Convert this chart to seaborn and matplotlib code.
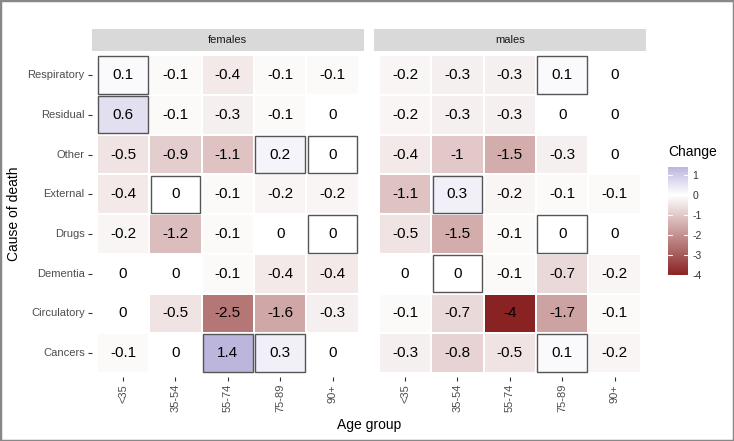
import numpy as np
import pandas as pd
import matplotlib
matplotlib.use("Agg")
import matplotlib.pyplot as plt
import seaborn as sns
from matplotlib.colors import LinearSegmentedColormap, Normalize
from matplotlib.cm import ScalarMappable
from matplotlib.patches import Rectangle

# ---------------- data ----------------
causes = ["Respiratory", "Residual", "Other", "External", "Drugs",
          "Dementia", "Circulatory", "Cancers"]
ages = ["<35", "35-54", "55-74", "75-89", "90+"]

females = [
    [0.1, -0.1, -0.4, -0.1, -0.1],
    [0.6, -0.1, -0.3, -0.1, 0],
    [-0.5, -0.9, -1.1, 0.2, 0],
    [-0.4, 0, -0.1, -0.2, -0.2],
    [-0.2, -1.2, -0.1, 0, 0],
    [0, 0, -0.1, -0.4, -0.4],
    [0, -0.5, -2.5, -1.6, -0.3],
    [-0.1, 0, 1.4, 0.3, 0],
]
males = [
    [-0.2, -0.3, -0.3, 0.1, 0],
    [-0.2, -0.3, -0.3, 0, 0],
    [-0.4, -1, -1.5, -0.3, 0],
    [-1.1, 0.3, -0.2, -0.1, -0.1],
    [-0.5, -1.5, -0.1, 0, 0],
    [0, 0, -0.1, -0.7, -0.2],
    [-0.1, -0.7, -4, -1.7, -0.1],
    [-0.3, -0.8, -0.5, 0.1, -0.2],
]
females_outlined = [("Respiratory", "<35"), ("Residual", "<35"),
                    ("Other", "75-89"), ("Other", "90+"),
                    ("External", "35-54"), ("Drugs", "90+"),
                    ("Cancers", "55-74"), ("Cancers", "75-89")]
males_outlined = [("Respiratory", "75-89"), ("External", "35-54"),
                  ("Drugs", "75-89"), ("Dementia", "35-54"),
                  ("Cancers", "75-89")]
panels = ["females", "males"]
legend_ticks = [1, 0, -1, -2, -3, -4]

# ---------------- style ----------------
sns.set_theme(style="white")
plt.rcParams['font.family'] = ['Liberation Sans', 'DejaVu Sans']

W, H = 734, 441
fig = plt.figure(figsize=(W / 100, H / 100), dpi=100)
fig.patch.set_facecolor("white")

vmin, vmax = -4, 1.4
cmap = LinearSegmentedColormap.from_list(
    "chg", [(0.0, "#892323"), ((0 - vmin) / (vmax - vmin), "#FFFFFF"), (1.0, "#BCB6DD")])
norm = Normalize(vmin, vmax)

def fx(px):
    return px / W

def fy(py):
    return 1 - py / H

panel_top, panel_bot = 51.2, 377.0
panel_lefts = [91.6, 373.6]
panel_w = 272.4

tick_col = "#4D4D4D"
for i, (name, vals, outl) in enumerate(zip(panels, [females, males],
                                          [females_outlined, males_outlined])):
    left = panel_lefts[i]
    ax = fig.add_axes([fx(left), fy(panel_bot), panel_w / W, (panel_bot - panel_top) / H])
    df = pd.DataFrame(vals, index=causes, columns=ages)
    sns.heatmap(df, ax=ax, cmap=cmap, vmin=vmin, vmax=vmax, annot=True, fmt="g",
                annot_kws=dict(size=11, color="black"), linewidths=1.2,
                linecolor="white", cbar=False)
    ax.set_xlim(-0.1, 5.1)
    ax.set_ylim(8.1, -0.1)
    ax.set_facecolor("white")
    for s in ax.spines.values():
        s.set_visible(False)
    for (r, c) in outl:
        ri, ci = causes.index(r), ages.index(c)
        ax.add_patch(Rectangle((ci + 0.025, ri + 0.03), 0.95, 0.94, fill=False,
                               edgecolor="#555555", lw=1.0, zorder=5))
    ax.set_xlabel("")
    ax.set_ylabel("")
    ax.set_xticks(np.arange(len(ages)) + 0.5)
    ax.set_xticklabels(ages, rotation=90, fontsize=8, color=tick_col)
    ax.tick_params(axis="x", bottom=True, length=3, width=0.8, color="#333333", pad=2)
    if i == 0:
        ax.set_yticks(np.arange(len(causes)) + 0.5)
        ax.set_yticklabels(causes, rotation=0, fontsize=8, color=tick_col)
        ax.tick_params(axis="y", left=True, length=3, width=0.8, color="#333333", pad=2)
    else:
        ax.set_yticks([])
    # strip
    sax = fig.add_axes([fx(left), fy(panel_top), panel_w / W, 22.5 / H])
    sax.set_facecolor("#D9D9D9")
    sax.set_xticks([]); sax.set_yticks([])
    for s in sax.spines.values():
        s.set_visible(False)
    sax.text(0.5, 0.5, name, ha="center", va="center", fontsize=8, color="#1A1A1A",
             transform=sax.transAxes)

# axis titles
fig.text(fx(14), fy((panel_top + panel_bot) / 2), "Cause of death", rotation=90,
         ha="center", va="center", fontsize=10, color="black")
fig.text(fx((panel_lefts[0] + panel_lefts[1] + panel_w) / 2), fy(425), "Age group",
         ha="center", va="center", fontsize=10, color="black")

# legend
fig.text(fx(668), fy(152), "Change", ha="left", va="center", fontsize=10, color="black")
cax = fig.add_axes([fx(668), fy(275), 20 / W, 108 / H])
cb = fig.colorbar(ScalarMappable(norm=norm, cmap=cmap), cax=cax)
cb.outline.set_visible(False)
cb.set_ticks(legend_ticks)
cb.set_ticklabels([str(t) for t in legend_ticks])
cax.tick_params(length=0, labelsize=7.5, labelcolor="#333333", pad=3)
for t in legend_ticks:
    cax.plot([0, 0.22], [t, t], color="white", lw=0.8)
    cax.plot([0.78, 1], [t, t], color="white", lw=0.8)
cax.set_xlim(0, 1)

# outer frame
fig.patches.append(Rectangle((0, 0), 1, 1, transform=fig.transFigure, fill=False,
                             edgecolor="#888888", lw=2.5))

fig.savefig("out.png", dpi=100)
